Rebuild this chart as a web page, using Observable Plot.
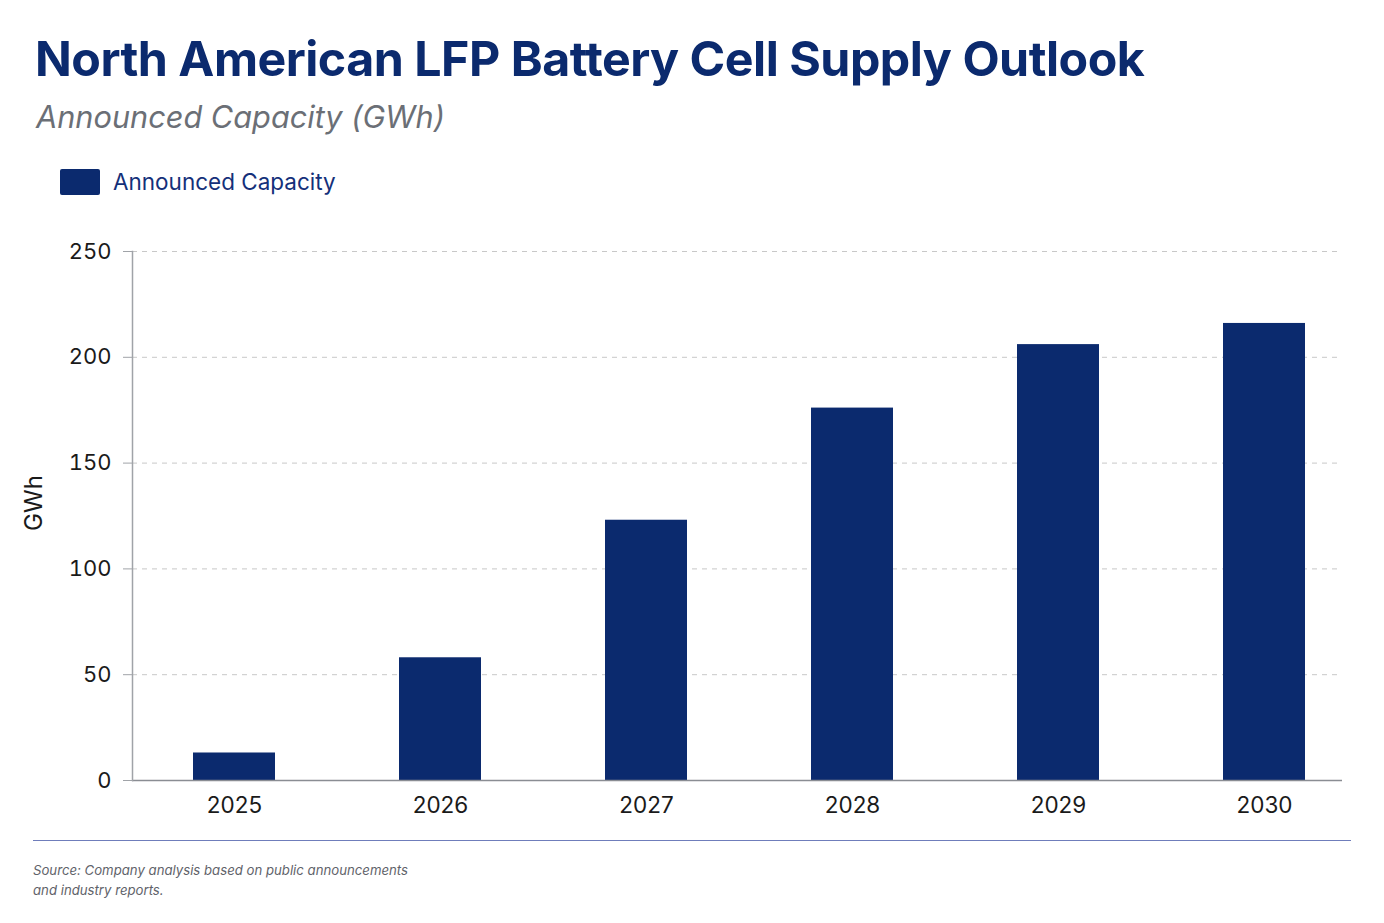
<!DOCTYPE html>
<html>
<head>
<meta charset="utf-8">
<script src="https://cdn.jsdelivr.net/npm/d3@7"></script>
<script src="https://cdn.jsdelivr.net/npm/@observablehq/plot@0.6"></script>
<style>
  html, body { margin: 0; padding: 0; background: #fff; width: 1384px; height: 923px; overflow: hidden; }
  body { position: relative; font-family: Inter, "Noto Sans", sans-serif; }
  #title { position: absolute; left: 35px; top: 29px; font-size: 48.3px; font-weight: 700; color: #0b2a6e; letter-spacing: -0.5px; white-space: nowrap; }
  #subtitle { position: absolute; left: 36px; top: 98px; font-size: 30.7px; font-style: italic; color: #6b6f76; white-space: nowrap; }
  #legend { position: absolute; left: 60px; top: 168px; display: flex; align-items: center; }
  #legend .sw { width: 40px; height: 26px; background: #0b2a6e; border-radius: 2px; }
  #legend .lb { margin-left: 13px; font-size: 22.5px; color: #14307a; }
  #chart { position: absolute; left: 0; top: 225px; }
  #rule { position: absolute; left: 33px; top: 840px; width: 1318px; height: 0; border-top: 1.5px solid #6f7dbb; }
  #source { position: absolute; left: 33px; top: 861px; font-size: 13.2px; font-style: italic; color: #5f636a; line-height: 19.5px; }
</style>
</head>
<body>
<div id="title">North American LFP Battery Cell Supply Outlook</div>
<div id="subtitle">Announced Capacity (GWh)</div>
<div id="legend"><div class="sw"></div><div class="lb">Announced Capacity</div></div>
<div id="chart"></div>
<div id="rule"></div>
<div id="source">Source: Company analysis based on public announcements<br>and industry reports.</div>
<script>
const years = ["2025", "2026", "2027", "2028", "2029", "2030"];
const capacity = [13, 58, 123, 176, 206, 216];
const yTicks = [0, 50, 100, 150, 200, 250];
const seriesName = "Announced Capacity";
const yLabel = "GWh";

const data = years.map((y, i) => ({year: y, value: capacity[i], series: seriesName}));

const chart = Plot.plot({
  width: 1384,
  height: 610,
  marginLeft: 132,
  marginRight: 42,
  marginTop: 26,
  marginBottom: 55,
  style: {fontFamily: "Inter, 'Noto Sans', sans-serif", fontSize: "20px", color: "#1a1a1a", background: "transparent"},
  x: {domain: years, paddingInner: 0.6, paddingOuter: 0.29, align: 0.5, insetRight: -24, label: null},
  y: {domain: [0, 250], ticks: yTicks, label: null},
  color: {domain: [seriesName], range: ["#0b2a6e"]},
  marks: [
    Plot.gridY(yTicks.filter(d => d > 0), {stroke: "#c8c8c8", strokeOpacity: 1, strokeDasharray: "5,5", strokeWidth: 1}),
    Plot.barY(data, {x: "year", y: "value", fill: "series"}),
    Plot.ruleY([0], {stroke: "#8a8d93", strokeWidth: 1.5}),
    Plot.frame({anchor: "left", stroke: "#a0a3a8", strokeWidth: 1.5}),
    Plot.axisY({ticks: yTicks, tickSize: 9, tickPadding: 12, stroke: "#a0a3a8", fontSize: 22, label: null}),
    Plot.axisX({tickSize: 0, tickPadding: 17, fontSize: 22.5}),
    Plot.text([yLabel], {text: d => d, frameAnchor: "left", textAnchor: "middle", rotate: -90, dx: -98, dy: -13, fontSize: 24, fill: "#1a1a1a"})
  ]
});
document.getElementById("chart").appendChild(chart);
</script>
</body>
</html>
